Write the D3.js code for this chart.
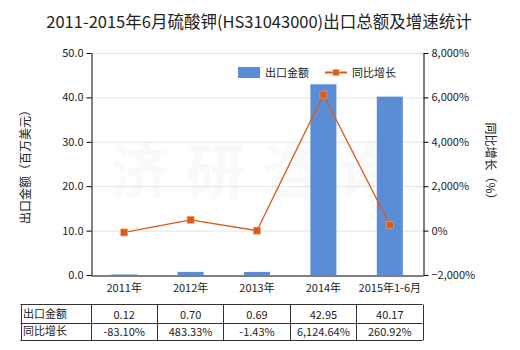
<!DOCTYPE html>
<html>
<head>
<meta charset="utf-8">
<script src="https://cdn.jsdelivr.net/npm/d3@7"></script>
<style>
  html, body { margin: 0; padding: 0; background: #fff; }
  svg { display: block; font-family: "Noto Sans CJK SC", "Noto Sans", sans-serif; }
</style>
</head>
<body>
<svg id="chart" width="520" height="350"></svg>
<script>
// Export value (million USD) and year-on-year growth (%) of potassium sulphate
const categories = ["2011年", "2012年", "2013年", "2014年", "2015年1-6月"];
const exportValues = [0.12, 0.70, 0.69, 42.95, 40.17];
const growthRates = [-83.10, 483.33, -1.43, 6124.64, 260.92];
const exportLabels = ["0.12", "0.70", "0.69", "42.95", "40.17"];
const growthLabels = ["-83.10%", "483.33%", "-1.43%", "6,124.64%", "260.92%"];
const leftTicks = [0, 10, 20, 30, 40, 50];
const rightTicks = [-2000, 0, 2000, 4000, 6000, 8000];
const rowNames = ["出口金额", "同比增长"];

const barColor = "#5a8dd6";
const lineColor = "#d95a1a";

const svg = d3.select("#chart");
const plot = { left: 91, right: 423, top: 53, bottom: 275 };

const xc = d3.scaleBand().domain(categories).range([plot.left, plot.right]);
const yL = d3.scaleLinear().domain([0, 50]).range([plot.bottom, plot.top]);
const yR = d3.scaleLinear().domain([-2000, 8000]).range([plot.bottom, plot.top]);

// Title
svg.append("text")
  .attr("x", 259).attr("y", 28)
  .attr("text-anchor", "middle")
  .attr("font-size", 16.5).attr("fill", "#222")
  .text("2011-2015年6月硫酸钾(HS31043000)出口总额及增速统计");

// Gridlines
svg.append("g").selectAll("line").data(leftTicks.slice(1)).join("line")
  .attr("x1", plot.left).attr("x2", plot.right)
  .attr("y1", d => yL(d) + 0.5).attr("y2", d => yL(d) + 0.5)
  .attr("stroke", "#e3e6e6").attr("stroke-width", 1);

// Faint watermark
svg.append("text")
  .attr("x", 262).attr("y", 178)
  .attr("text-anchor", "middle").attr("dominant-baseline", "middle")
  .attr("font-size", 60).attr("font-weight", "bold")
  .attr("letter-spacing", 16)
  .attr("fill", "#dfe3e6").attr("opacity", 0.2)
  .text("济研咨询");

// Bars
svg.append("g").selectAll("rect").data(categories).join("rect")
  .attr("x", d => xc(d) + xc.bandwidth() / 2 - 13)
  .attr("width", 26)
  .attr("y", (d, i) => yL(exportValues[i]))
  .attr("height", (d, i) => plot.bottom - yL(exportValues[i]))
  .attr("fill", barColor);

// Axes
const tickFmtL = d3.format(".1f");
const tickFmtR = d => d3.format(",")(d) + "%";

const axL = svg.append("g").attr("transform", `translate(${plot.left + 0.5},0)`)
  .call(d3.axisLeft(yL).tickValues(leftTicks).tickFormat(tickFmtL).tickSize(5).tickSizeOuter(0));
const axR = svg.append("g").attr("transform", `translate(${plot.right + 0.5},0)`)
  .call(d3.axisRight(yR).tickValues(rightTicks).tickFormat(tickFmtR).tickSize(5).tickSizeOuter(0));
const axB = svg.append("g").attr("transform", `translate(0,${plot.bottom + 0.5})`)
  .call(d3.axisBottom(xc).tickSize(0).tickSizeOuter(0));

[axL, axR, axB].forEach(a => {
  a.selectAll("path.domain").attr("stroke", "#000");
  a.selectAll(".tick line").attr("stroke", "#000");
  a.selectAll("text").attr("font-size", 11).attr("fill", "#222")
    .attr("font-family", "'Noto Sans CJK SC', sans-serif");
});
axB.selectAll("text").attr("dy", "1.2em");

// Growth line
const line = d3.line()
  .x((d, i) => xc(categories[i]) + xc.bandwidth() / 2)
  .y(d => yR(d));
svg.append("path").datum(growthRates)
  .attr("d", line).attr("fill", "none")
  .attr("stroke", lineColor).attr("stroke-width", 1.3);
svg.append("g").selectAll("rect").data(growthRates).join("rect")
  .attr("x", (d, i) => xc(categories[i]) + xc.bandwidth() / 2 - 3.5)
  .attr("y", d => yR(d) - 3.5)
  .attr("width", 7).attr("height", 7)
  .attr("fill", lineColor).attr("stroke", "#f0a070").attr("stroke-width", 0.6);

// Axis titles
svg.append("text")
  .attr("transform", `translate(30,${(plot.top + plot.bottom) / 2}) rotate(-90)`)
  .attr("text-anchor", "middle").attr("font-size", 12).attr("fill", "#222")
  .text("出口金额（百万美元）");
svg.append("text")
  .attr("transform", `translate(486,${(plot.top + plot.bottom) / 2}) rotate(90)`)
  .attr("text-anchor", "middle").attr("font-size", 12).attr("fill", "#222")
  .text("同比增长（%）");

// Legend
const lg = svg.append("g");
lg.append("rect").attr("x", 238).attr("y", 67).attr("width", 22).attr("height", 11).attr("fill", barColor);
lg.append("text").attr("x", 265).attr("y", 77).attr("font-size", 11).attr("fill", "#222").text("出口金额");
lg.append("line").attr("x1", 325).attr("x2", 347).attr("y1", 72.5).attr("y2", 72.5)
  .attr("stroke", lineColor).attr("stroke-width", 2);
lg.append("rect").attr("x", 333).attr("y", 69.5).attr("width", 6).attr("height", 6)
  .attr("fill", lineColor).attr("stroke", "#f0a070").attr("stroke-width", 0.6);
lg.append("text").attr("x", 352).attr("y", 77).attr("font-size", 11).attr("fill", "#222").text("同比增长");

// Data table
const tbl = { left: 20.5, top: 304.5, mid: 323.5, bottom: 340.5 };
const tg = svg.append("g");
const colEdges = [tbl.left].concat(categories.map(c => xc(c) - 0.5)).concat([plot.right - 0.5]);
[tbl.top, tbl.mid, tbl.bottom].forEach(yv => {
  tg.append("line").attr("x1", tbl.left).attr("x2", plot.right - 0.5)
    .attr("y1", yv).attr("y2", yv).attr("stroke", "#333").attr("stroke-width", 1);
});
colEdges.forEach(xv => {
  const xx = Math.round(xv) + 0.5;
  tg.append("line").attr("x1", xx).attr("x2", xx)
    .attr("y1", tbl.top).attr("y2", tbl.bottom).attr("stroke", "#333").attr("stroke-width", 1);
});
rowNames.forEach((n, r) => {
  tg.append("text").attr("x", 23).attr("y", r === 0 ? 318 : 335)
    .attr("font-size", 11).attr("fill", "#222").text(n);
});
[exportLabels, growthLabels].forEach((row, r) => {
  tg.selectAll(null).data(row).join("text")
    .attr("x", (d, i) => xc(categories[i]) + xc.bandwidth() / 2)
    .attr("y", r === 0 ? 319 : 336)
    .attr("text-anchor", "middle").attr("font-size", 11).attr("fill", "#222")
    .text(d => d);
});
</script>
</body>
</html>
